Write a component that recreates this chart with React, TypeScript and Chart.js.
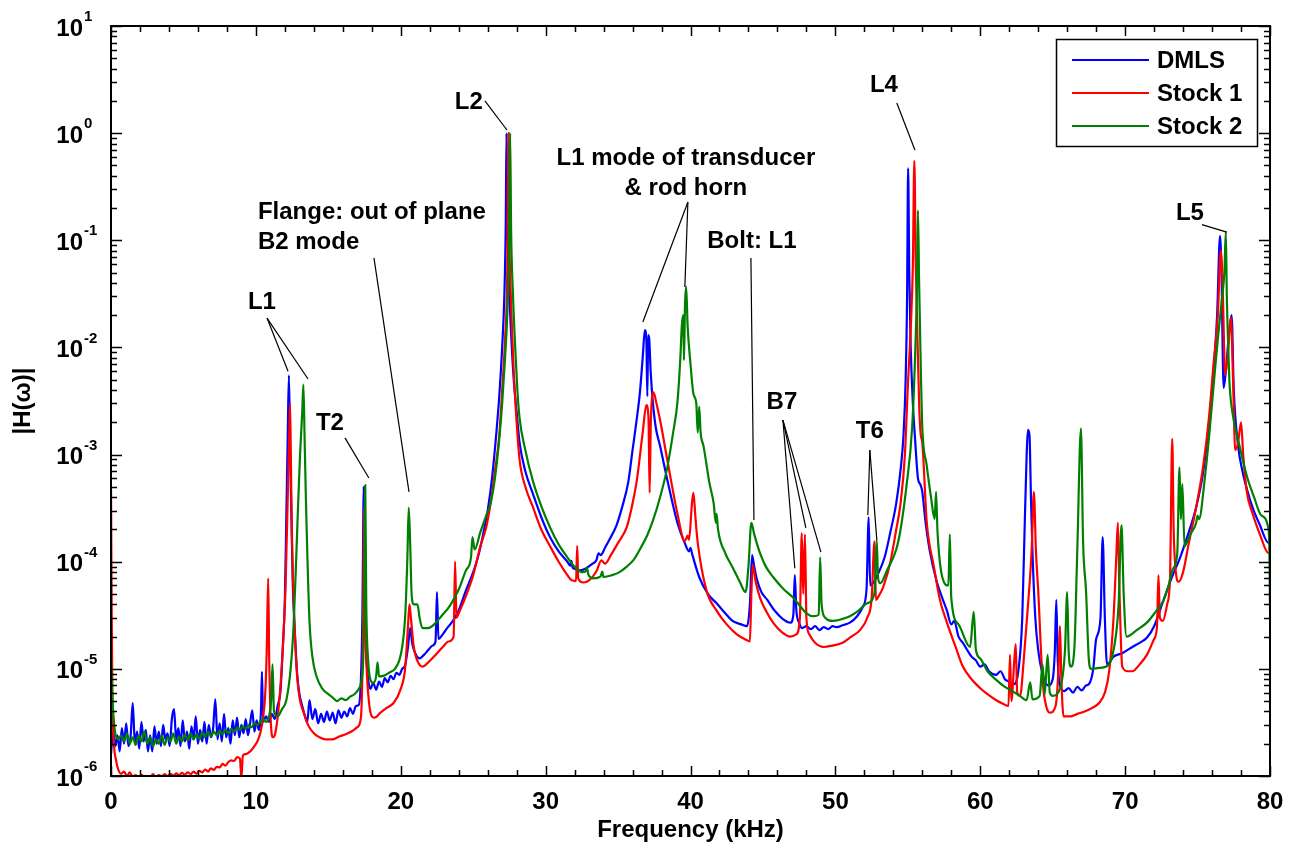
import React, { useEffect, useRef } from 'react';
import { Chart, registerables } from 'chart.js';

Chart.register(...registerables);

// ---------- DATA (frequency kHz, |H(w)|) ----------
const dmlsPoints: [number, number][] = [
  [0,1.6e-6],[0.15,2.6e-6],[0.3,1.9e-6],[0.45,2.4e-6],[0.6,1.7e-6],[0.75,2.8e-6],[0.9,2.0e-6],[1.05,3.1e-6],[1.2,1.9e-6],[1.35,2.3e-6],
  [1.5,4.8e-6],[1.65,2.0e-6],[1.8,2.6e-6],[1.95,1.8e-6],[2.1,3.2e-6],[2.25,2.1e-6],[2.4,2.7e-6],[2.55,1.7e-6],[2.7,2.4e-6],[2.85,1.7e-6],
  [3.0,2.9e-6],[3.15,2.0e-6],[3.3,2.6e-6],[3.45,1.9e-6],[3.6,3.0e-6],[3.75,2.2e-6],[3.9,2.5e-6],[4.05,1.9e-6],[4.2,3.4e-6],[4.35,4.2e-6],
  [4.5,2.2e-6],[4.65,2.8e-6],[4.8,1.9e-6],[4.95,3.3e-6],[5.1,2.1e-6],[5.25,2.6e-6],[5.4,1.8e-6],[5.55,2.9e-6],[5.7,2.2e-6],[5.85,3.6e-6],
  [6.0,2.0e-6],[6.15,2.7e-6],[6.3,2.1e-6],[6.45,3.2e-6],[6.6,2.0e-6],[6.75,3.0e-6],[6.9,2.3e-6],[7.05,2.8e-6],[7.2,5.2e-6],[7.35,2.2e-6],
  [7.5,3.1e-6],[7.65,2.1e-6],[7.8,3.8e-6],[7.95,2.3e-6],[8.1,2.8e-6],[8.25,2.0e-6],[8.4,3.3e-6],[8.55,2.4e-6],[8.7,3.5e-6],[8.85,2.3e-6],
  [9.0,3.0e-6],[9.15,2.5e-6],[9.3,3.4e-6],[9.45,2.4e-6],[9.6,3.1e-6],[9.75,4.1e-6],[9.9,2.6e-6],[10.05,3.3e-6],[10.2,2.7e-6],[10.35,4.0e-6],
  [10.42,9.4e-6],[10.5,3.2e-6],[10.7,3.6e-6],[10.9,3.2e-6],[11.1,3.8e-6],[11.3,3.4e-6],[11.5,4.5e-6],[11.7,6.3e-6],[11.85,1.5e-5],[12.0,4.4e-5],
  [12.1,2.5e-4],[12.2,1.5e-3],[12.28,5.5e-3],[12.36,1.2e-3],[12.45,2.7e-4],[12.55,6e-5],[12.7,2.1e-5],[12.85,9e-6],[13.0,5.9e-6],[13.2,4.5e-6],
  [13.4,3.6e-6],[13.55,3.2e-6],[13.7,5.1e-6],[13.9,3.4e-6],[14.1,4.2e-6],[14.3,3.1e-6],[14.5,3.8e-6],[14.7,3.2e-6],[14.9,4.0e-6],[15.1,3.3e-6],
  [15.3,3.9e-6],[15.5,3.1e-6],[15.7,4.1e-6],[15.9,3.5e-6],[16.1,4.0e-6],[16.3,3.6e-6],[16.5,4.3e-6],[16.7,3.8e-6],[16.9,4.5e-6],[17.1,4.6e-6],
  [17.25,8e-6],[17.35,3e-5],[17.45,5e-4],[17.52,4e-5],[17.6,1.5e-5],[17.75,8e-6],[17.9,6.5e-6],[18.1,7.4e-6],[18.3,6.4e-6],[18.5,7.6e-6],
  [18.7,6.8e-6],[18.9,8.2e-6],[19.1,7.5e-6],[19.3,8.6e-6],[19.5,8.0e-6],[19.7,9.2e-6],[19.9,8.8e-6],[20.1,1.0e-5],[20.3,1.08e-5],[20.5,1.6e-5],
  [20.65,2.4e-5],[20.8,1.7e-5],[21.0,1.4e-5],[21.3,1.25e-5],[21.6,1.35e-5],[21.9,1.5e-5],[22.2,1.65e-5],[22.4,1.8e-5],[22.5,5.2e-5],[22.6,1.9e-5],
  [22.9,2.1e-5],[23.2,2.4e-5],[23.6,2.8e-5],[24.0,3.5e-5],[24.5,5.4e-5],[25.0,8e-5],[25.4,1.2e-4],[25.7,1.85e-4],[26.0,3e-4],[26.3,6e-4],
  [26.6,1.6e-3],[26.8,3.5e-3],[27.0,1e-2],[27.15,3e-2],[27.25,0.15],[27.3,1.0],[27.35,0.2],[27.45,0.05],[27.6,1.5e-2],[27.8,5e-3],
  [28.0,2.5e-3],[28.2,1.3e-3],[28.6,7e-4],[29.1,4.4e-4],[29.7,2.6e-4],[30.3,1.7e-4],[30.9,1.25e-4],[31.5,1.0e-4],[31.7,9.2e-5],[31.78,1.02e-4],
  [31.86,8.8e-5],[32.1,8.5e-5],[32.4,8.3e-5],[32.8,8.7e-5],[33.2,9.5e-5],[33.5,1.03e-4],[33.65,1.2e-4],[33.8,1.15e-4],[34.1,1.35e-4],[34.4,1.6e-4],
  [34.9,2.2e-4],[35.3,3.3e-4],[35.7,5.5e-4],[36.0,1.1e-3],[36.3,2.2e-3],[36.5,3.7e-3],[36.7,8e-3],[36.85,1.45e-2],[36.95,1.2e-2],[37.02,3.5e-3],
  [37.08,1.3e-2],[37.15,1.2e-2],[37.25,6e-3],[37.4,3.1e-3],[37.6,1.8e-3],[37.9,1.2e-3],[38.4,5.8e-4],[39.1,2.3e-4],[39.6,1.5e-4],[39.9,1.25e-4],
  [40.0,1.35e-4],[40.1,1.2e-4],[40.6,7.2e-5],[41.2,5e-5],[41.8,4.1e-5],[42.4,3.3e-5],[42.9,2.8e-5],[43.5,2.6e-5],[43.9,2.5e-5],[44.1,4e-5],
  [44.25,1.15e-4],[44.4,9e-5],[44.6,6.7e-5],[44.9,5.2e-5],[45.3,4.4e-5],[45.8,3.5e-5],[46.4,2.9e-5],[46.9,2.7e-5],[47.1,3.2e-5],[47.2,7.5e-5],
  [47.3,3.6e-5],[47.5,2.7e-5],[47.7,2.4e-5],[48.0,2.5e-5],[48.3,2.35e-5],[48.6,2.5e-5],[48.9,2.3e-5],[49.2,2.45e-5],[49.5,2.35e-5],[49.8,2.5e-5],
  [50.1,2.45e-5],[50.5,2.55e-5],[51.0,2.7e-5],[51.5,3.1e-5],[51.9,3.8e-5],[52.15,5.5e-5],[52.3,2.6e-4],[52.4,6e-5],[52.6,6.3e-5],[53.0,8e-5],
  [53.4,1.1e-4],[53.8,1.9e-4],[54.2,3.5e-4],[54.5,7.2e-4],[54.7,1.5e-3],[54.85,5e-3],[54.95,3e-2],[55.02,0.47],[55.1,5e-2],[55.2,1e-2],
  [55.35,3e-3],[55.5,1.4e-3],[55.7,6e-4],[55.85,5.3e-4],[56.0,4.5e-4],[56.2,2.5e-4],[56.5,1.3e-4],[57.0,6.5e-5],[57.4,4.5e-5],[57.7,3.5e-5],
  [58.0,2.6e-5],[58.2,2.8e-5],[58.5,2.0e-5],[58.8,1.75e-5],[59.1,1.5e-5],[59.4,1.3e-5],[59.7,1.2e-5],[60.0,1.05e-5],[60.3,1.1e-5],[60.6,9.5e-6],
  [61.1,8.8e-6],[61.4,9.5e-6],[61.7,8e-6],[62.0,7.6e-6],[62.3,7.2e-6],[62.6,9e-6],[62.9,3e-5],[63.1,3.2e-4],[63.3,1.7e-3],[63.4,1.5e-3],
  [63.5,4e-4],[63.6,1.3e-4],[63.8,3e-5],[64.0,1.5e-5],[64.3,9e-6],[64.7,7e-6],[65.0,8e-6],[65.15,1.5e-5],[65.25,4.4e-5],[65.35,1.2e-5],
  [65.5,7e-6],[65.8,6.2e-6],[66.1,6.6e-6],[66.4,6.0e-6],[66.7,6.8e-6],[67.0,6.3e-6],[67.3,7.0e-6],[67.5,7.2e-6],[67.8,1.0e-5],[68.0,1.9e-5],
  [68.3,3e-5],[68.45,1.7e-4],[68.6,3e-5],[68.75,1.1e-5],[69.2,1.3e-5],[69.8,1.4e-5],[70.5,1.6e-5],[71.0,1.75e-5],[71.5,1.95e-5],[72.0,2.5e-5],
  [72.6,4.2e-5],[73.2,7e-5],[73.8,1.1e-4],[74.4,1.9e-4],[74.9,3.2e-4],[75.4,7e-4],[75.8,2e-3],[76.1,6e-3],[76.35,2e-2],[76.55,0.11],
  [76.65,0.05],[76.8,4.2e-3],[76.95,6e-3],[77.2,1.5e-2],[77.35,2e-2],[77.5,4e-3],[77.8,1.2e-3],[78.1,7e-4],[78.4,4.8e-4],[78.8,3.2e-4],
  [79.3,2.2e-4],[79.9,1.5e-4],[80,1.5e-4],
];

const stock1Points: [number, number][] = [
  [0,5e-4],[0.05,3e-5],[0.1,5e-6],[0.2,2e-6],[0.35,1.4e-6],[0.5,1.15e-6],[0.7,1.05e-6],[0.9,1.1e-6],[1.1,1.0e-6],[1.3,1.08e-6],
  [1.5,0.98e-6],[1.7,1.02e-6],[1.9,0.95e-6],[2.1,1.03e-6],[2.3,0.97e-6],[2.5,1.0e-6],[2.7,0.96e-6],[2.9,1.04e-6],[3.1,0.98e-6],[3.3,1.02e-6],
  [3.5,0.99e-6],[3.7,1.04e-6],[3.9,1.0e-6],[4.1,1.05e-6],[4.3,1.01e-6],[4.5,1.06e-6],[4.7,1.02e-6],[4.9,1.07e-6],[5.1,1.03e-6],[5.3,1.08e-6],
  [5.5,1.04e-6],[5.7,1.1e-6],[5.9,1.05e-6],[6.1,1.12e-6],[6.3,1.08e-6],[6.5,1.15e-6],[6.7,1.1e-6],[6.9,1.18e-6],[7.1,1.14e-6],[7.3,1.22e-6],
  [7.5,1.2e-6],[7.7,1.3e-6],[7.9,1.25e-6],[8.1,1.35e-6],[8.3,1.4e-6],[8.5,1.38e-6],[8.7,1.5e-6],[8.9,1.45e-6],[9.0,0.95e-6],[9.1,1.55e-6],
  [9.3,1.6e-6],[9.5,1.65e-6],[9.7,1.75e-6],[9.9,1.9e-6],[10.1,2.1e-6],[10.3,2.5e-6],[10.5,3.5e-6],[10.65,6e-6],[10.75,1.5e-5],[10.85,7e-5],
  [10.92,1.2e-5],[11.0,4e-6],[11.15,2.3e-6],[11.3,2.4e-6],[11.5,3.5e-6],[11.7,7e-6],[11.9,2e-5],[12.05,6e-5],[12.2,4e-4],[12.3,1.5e-3],
  [12.36,3.0e-3],[12.42,8e-4],[12.5,1.5e-4],[12.65,3e-5],[12.8,1.05e-5],[13.0,5.5e-6],[13.3,3.9e-6],[13.6,3.0e-6],[14.0,2.5e-6],[14.4,2.3e-6],
  [14.8,2.2e-6],[15.3,2.2e-6],[15.8,2.35e-6],[16.2,2.45e-6],[16.6,2.6e-6],[17.0,2.85e-6],[17.25,3.5e-6],[17.38,1.5e-5],[17.48,3.2e-4],[17.55,3e-5],
  [17.65,1e-5],[17.8,5e-6],[18.0,3.6e-6],[18.2,3.5e-6],[18.6,3.9e-6],[19.0,4.3e-6],[19.5,4.8e-6],[20.0,6.5e-6],[20.3,1.0e-5],[20.5,2.5e-5],
  [20.6,4.0e-5],[20.7,3e-5],[20.9,1.6e-5],[21.2,1.15e-5],[21.5,1.05e-5],[21.9,1.15e-5],[22.4,1.35e-5],[22.9,1.6e-5],[23.3,1.8e-5],[23.65,2.0e-5],
  [23.75,1e-4],[23.85,3e-5],[24.0,3.3e-5],[24.5,4.8e-5],[25.0,7.5e-5],[25.5,1.4e-4],[25.9,2.1e-4],[26.2,3.5e-4],[26.5,7e-4],[26.8,1.5e-3],
  [27.0,4e-3],[27.2,1.2e-2],[27.35,5e-2],[27.43,1.0],[27.5,0.1],[27.6,3e-2],[27.8,6e-3],[28.0,2e-3],[28.2,9e-4],[28.6,5e-4],
  [29.1,3.3e-4],[29.7,2e-4],[30.3,1.4e-4],[30.9,1e-4],[31.5,7.5e-5],[31.8,6.7e-5],[32.1,6.6e-5],[32.18,1.4e-4],[32.25,7e-5],[32.6,6.4e-5],
  [33.0,6.7e-5],[33.5,8.1e-5],[33.85,1.03e-4],[34.1,9.6e-5],[34.5,1.15e-4],[35.0,1.5e-4],[35.6,2.1e-4],[36.0,3.5e-4],[36.3,5.8e-4],[36.7,1.6e-3],
  [36.95,2.9e-3],[37.1,2.2e-3],[37.18,4.4e-4],[37.26,2e-3],[37.45,3.8e-3],[37.65,3e-3],[37.9,2.1e-3],[38.4,8.9e-4],[39.1,2.8e-4],[39.6,1.55e-4],
  [39.8,1.75e-4],[39.9,1.6e-4],[40.1,3.5e-4],[40.2,4.4e-4],[40.35,2.5e-4],[40.5,1.5e-4],[41.1,5.4e-5],[41.8,3.5e-5],[42.5,2.6e-5],[43.2,2.1e-5],
  [43.9,1.85e-5],[44.1,1.8e-5],[44.2,5e-5],[44.3,9.3e-5],[44.5,6.5e-5],[44.8,4.6e-5],[45.2,3.5e-5],[45.7,2.7e-5],[46.3,2.2e-5],[46.9,2.0e-5],
  [47.3,2.1e-5],[47.55,3e-5],[47.68,1.85e-4],[47.78,5e-5],[47.9,1.8e-4],[48.0,3e-5],[48.2,2.1e-5],[48.6,1.75e-5],[49.2,1.6e-5],[49.8,1.65e-5],
  [50.5,1.75e-5],[51.1,2.0e-5],[51.7,2.3e-5],[52.2,3.0e-5],[52.5,4.5e-5],[52.7,1.55e-4],[52.8,4.4e-5],[53.0,4.8e-5],[53.3,5.8e-5],[53.8,1e-4],
  [54.2,2e-4],[54.5,3.5e-4],[54.8,1e-3],[55.0,4.3e-3],[55.2,1.5e-2],[55.35,0.06],[55.45,0.55],[55.55,0.06],[55.7,8e-3],[55.8,2.5e-3],
  [55.9,1.5e-3],[56.0,1.3e-3],[56.3,2.4e-4],[56.8,9e-5],[57.2,4.5e-5],[57.7,2.7e-5],[58.3,1.6e-5],[58.8,1.05e-5],[59.4,8e-6],[60.0,6.6e-6],
  [60.5,5.8e-6],[61.1,5.1e-6],[61.6,4.7e-6],[61.95,4.5e-6],[62.05,1.35e-5],[62.15,5e-6],[62.35,1.2e-5],[62.45,1.7e-5],[62.55,6e-6],[62.75,5.6e-6],
  [63.0,1.2e-5],[63.3,4e-5],[63.55,1.3e-4],[63.7,4.5e-4],[63.85,1.2e-4],[64.0,5.4e-5],[64.3,7.9e-6],[64.55,4.5e-6],[64.8,3.9e-6],[65.2,4.5e-6],
  [65.4,1.0e-5],[65.5,2.5e-5],[65.6,8e-6],[65.75,3.6e-6],[66.2,3.6e-6],[66.7,3.8e-6],[67.2,4.0e-6],[67.7,4.3e-6],[68.2,4.8e-6],[68.6,6e-6],
  [68.9,9.5e-6],[69.2,3e-5],[69.4,1.2e-4],[69.5,2.3e-4],[69.6,6e-5],[69.8,1.05e-5],[70.2,9.5e-6],[70.5,9.5e-6],[71.0,1.1e-5],[71.5,1.35e-5],
  [72.0,1.9e-5],[72.2,2.5e-5],[72.3,7.5e-5],[72.4,3e-5],[72.6,2.8e-5],[72.9,4e-5],[73.1,7.2e-5],[73.25,1.4e-3],[73.35,2e-4],[73.5,8e-5],
  [73.7,6.5e-5],[74.0,8e-5],[74.4,1.5e-4],[74.9,3.2e-4],[75.4,8e-4],[75.8,2.3e-3],[76.1,6.9e-3],[76.4,2e-2],[76.6,8e-2],[76.75,3e-2],
  [76.9,5.5e-3],[77.1,9e-3],[77.3,1.9e-2],[77.45,5e-3],[77.6,1.1e-3],[77.8,1.3e-3],[78.0,2e-3],[78.15,1e-3],[78.4,4.5e-4],[78.8,2.8e-4],
  [79.3,1.8e-4],[79.9,1.2e-4],[80,1.2e-4],
];

const stock2Points: [number, number][] = [
  [0,1.3e-5],[0.05,8e-6],[0.15,4e-6],[0.3,2.5e-6],[0.5,2.2e-6],[0.7,2.4e-6],[0.9,2.1e-6],[1.1,2.5e-6],[1.3,2.0e-6],[1.5,2.3e-6],
  [1.7,1.95e-6],[1.9,2.4e-6],[2.1,2.1e-6],[2.3,2.6e-6],[2.5,2.0e-6],[2.7,2.3e-6],[2.9,1.9e-6],[3.1,2.2e-6],[3.3,2.0e-6],[3.5,2.4e-6],
  [3.7,1.95e-6],[3.9,2.3e-6],[4.1,2.1e-6],[4.3,2.5e-6],[4.5,2.0e-6],[4.7,2.35e-6],[4.9,2.1e-6],[5.1,2.45e-6],[5.3,2.15e-6],[5.5,2.5e-6],
  [5.7,2.2e-6],[5.9,2.45e-6],[6.1,2.2e-6],[6.3,2.55e-6],[6.5,2.3e-6],[6.7,2.6e-6],[6.9,2.35e-6],[7.1,2.6e-6],[7.3,2.4e-6],[7.5,2.65e-6],
  [7.7,2.45e-6],[7.9,2.7e-6],[8.1,2.5e-6],[8.3,2.75e-6],[8.5,2.6e-6],[8.7,2.85e-6],[8.9,2.7e-6],[9.1,2.9e-6],[9.3,2.75e-6],[9.5,3.0e-6],
  [9.7,2.85e-6],[9.9,3.1e-6],[10.1,3.0e-6],[10.3,3.2e-6],[10.5,3.4e-6],[10.7,3.2e-6],[10.9,3.6e-6],[11.05,5e-6],[11.15,1.1e-5],[11.25,4e-6],
  [11.5,3.6e-6],[11.8,4.2e-6],[12.1,5.1e-6],[12.4,1e-5],[12.6,2.5e-5],[12.75,8e-5],[12.9,3e-4],[13.05,1e-3],[13.2,2.5e-3],[13.28,4.5e-3],
  [13.36,1.5e-3],[13.45,4e-4],[13.55,1.2e-4],[13.7,2.8e-5],[13.9,1.3e-5],[14.2,8.4e-6],[14.6,6.5e-6],[15.0,5.8e-6],[15.3,5.4e-6],[15.6,5.0e-6],
  [15.9,5.3e-6],[16.2,5.1e-6],[16.5,5.5e-6],[16.8,5.8e-6],[17.1,6.5e-6],[17.3,8e-6],[17.45,2e-5],[17.55,5.2e-4],[17.62,4e-5],[17.75,1.2e-5],
  [17.9,8e-6],[18.1,7.4e-6],[18.3,8.5e-6],[18.4,1.15e-5],[18.5,8.5e-6],[18.8,8.6e-6],[19.2,9.2e-6],[19.6,1.0e-5],[19.9,1.2e-5],[20.1,1.6e-5],
  [20.3,3e-5],[20.45,1e-4],[20.55,3.2e-4],[20.65,1.5e-4],[20.75,5e-5],[20.9,4e-5],[21.15,4.0e-5],[21.3,3e-5],[21.5,2.4e-5],[21.9,2.4e-5],
  [22.3,2.6e-5],[22.8,3.1e-5],[23.4,3.9e-5],[24.0,5.5e-5],[24.5,8.3e-5],[24.85,1.1e-4],[24.95,1.7e-4],[25.1,1.3e-4],[25.5,1.9e-4],[25.9,2.7e-4],
  [26.2,3.5e-4],[26.5,6e-4],[26.8,1.4e-3],[27.0,3e-3],[27.2,8e-3],[27.35,2e-2],[27.47,0.08],[27.55,1.0],[27.62,0.12],[27.75,3e-2],
  [27.9,1e-2],[28.05,4e-3],[28.2,2.2e-3],[28.6,1.1e-3],[29.1,5.8e-4],[29.7,3.3e-4],[30.3,2.1e-4],[30.9,1.45e-4],[31.5,1.1e-4],[32.0,9e-5],
  [32.5,8e-5],[32.75,8.1e-5],[32.85,8.8e-5],[32.95,7.6e-5],[33.3,7e-5],[33.8,7.3e-5],[33.9,8.1e-5],[34.0,7.2e-5],[34.6,7.5e-5],[35.1,8e-5],
  [35.6,9e-5],[36.1,1.05e-4],[36.5,1.3e-4],[37.0,1.75e-4],[37.4,2.4e-4],[37.9,4e-4],[38.4,7.6e-4],[38.8,1.6e-3],[39.1,3.1e-3],[39.3,8e-3],
  [39.4,1.6e-2],[39.5,2.0e-2],[39.55,7.6e-3],[39.62,2.5e-2],[39.7,3.7e-2],[39.8,1.6e-2],[40.0,7e-3],[40.2,3.7e-3],[40.4,3.0e-3],[40.5,1.6e-3],
  [40.6,2.8e-3],[40.7,1.6e-3],[40.9,1.2e-3],[41.3,5.5e-4],[41.6,3.5e-4],[41.75,2.3e-4],[41.8,2.8e-4],[41.9,2e-4],[42.4,1.2e-4],[42.9,8.9e-5],
  [43.4,6.5e-5],[43.8,5.2e-5],[44.0,9e-5],[44.2,2.3e-4],[44.4,1.8e-4],[44.8,1.2e-4],[45.2,9e-5],[45.7,7.2e-5],[46.4,5.6e-5],[47.1,4.6e-5],
  [47.6,3.8e-5],[48.0,3.3e-5],[48.5,3.1e-5],[48.85,3.2e-5],[48.95,1.1e-4],[49.05,4e-5],[49.3,3e-5],[49.8,2.8e-5],[50.4,2.9e-5],[51.0,3.1e-5],
  [51.6,3.5e-5],[52.2,4.1e-5],[52.7,5.1e-5],[52.85,1.6e-4],[52.95,7e-5],[53.1,6.3e-5],[53.6,8.5e-5],[54.2,1.3e-4],[54.5,2e-4],[54.9,5e-4],
  [55.3,1.8e-3],[55.5,8e-3],[55.62,3e-2],[55.7,0.19],[55.78,4e-2],[55.9,6e-3],[56.0,1.8e-3],[56.3,8e-4],[56.6,4e-4],[56.85,2.5e-4],
  [56.95,4.5e-4],[57.05,1.9e-4],[57.4,7e-5],[57.8,6e-5],[57.9,1.8e-4],[58.0,4.6e-5],[58.5,2.6e-5],[59.3,1.6e-5],[59.55,3.4e-5],[59.7,1.5e-5],
  [60.0,1.25e-5],[60.5,9.5e-6],[61.1,7.9e-6],[61.7,6.8e-6],[62.3,6.1e-6],[62.8,5.5e-6],[63.2,5.1e-6],[63.45,7.5e-6],[63.6,5.2e-6],[64.1,5.6e-6],
  [64.3,1.1e-5],[64.45,5.8e-6],[64.65,1.35e-5],[64.8,6e-6],[65.0,5.6e-6],[65.5,6.5e-6],[65.85,1.5e-5],[66.0,5.2e-5],[66.1,1.5e-5],[66.25,1.05e-5],
  [66.5,1.6e-5],[66.7,1.3e-4],[66.95,1.75e-3],[67.1,1.5e-4],[67.3,5.4e-5],[67.5,1.2e-5],[67.65,1.0e-5],[68.2,1.02e-5],[68.7,1.05e-5],[69.2,1.5e-5],
  [69.55,4e-5],[69.75,2.2e-4],[69.9,5e-5],[70.1,2e-5],[70.8,2.3e-5],[71.5,2.7e-5],[72.1,3.4e-5],[72.6,4.2e-5],[73.0,6e-5],[73.3,8.6e-5],
  [73.6,1.2e-4],[73.75,7.6e-4],[73.85,2.5e-4],[73.95,5.3e-4],[74.1,1.4e-4],[74.5,1.8e-4],[74.9,2.3e-4],[75.0,2.7e-4],[75.1,2.5e-4],[75.5,6e-4],
  [75.8,1.5e-3],[76.1,4.3e-3],[76.4,1.2e-2],[76.7,3e-2],[76.85,5e-2],[76.95,0.12],[77.02,3e-2],[77.1,1.2e-2],[77.2,4.8e-3],[77.4,2.5e-3],
  [77.9,1.2e-3],[78.4,6.3e-4],[78.9,4e-4],[79.4,2.7e-4],[79.9,2e-4],[79.97,1e-4],[80,3.5e-5],
];

const seriesNames = ['DMLS', 'Stock 1', 'Stock 2'];
const seriesColors = ['#0000ff', '#ff0000', '#008000'];

const xTickValues = [0, 10, 20, 30, 40, 50, 60, 70, 80];
const yTickExponents = [-6, -5, -4, -3, -2, -1, 0, 1];
const xAxisTitle = 'Frequency (kHz)';
const yAxisTitle = '|H(\u03c9)|';

// Annotations: text anchor and leader lines, all in data coordinates (kHz, |H|)
type Ann = { lines: string[]; x: number; y: number; align: 'center' | 'left'; leaders: [number, number, number, number][] };
const annotations: Ann[] = [
  { lines: ['L1'], x: 10.42, y: 2.65e-2, align: 'center', leaders: [[10.77, 1.88e-2, 12.22, 6.0e-3], [10.77, 1.88e-2, 13.6, 5.07e-3]] },
  { lines: ['T2'], x: 15.11, y: 1.97e-3, align: 'center', leaders: [[16.15, 1.43e-3, 17.8, 6.04e-4]] },
  { lines: ['Flange: out of plane', 'B2 mode'], x: 10.14, y: 0.184, align: 'left', leaders: [[18.15, 6.84e-2, 20.57, 4.48e-4]] },
  { lines: ['L2'], x: 24.7, y: 1.95, align: 'center', leaders: [[25.81, 2.0, 27.33, 1.07]] },
  { lines: ['L1 mode of transducer', '& rod horn'], x: 39.68, y: 0.586, align: 'center', leaders: [[39.82, 0.2275, 36.71, 1.73e-2], [39.82, 0.2275, 39.61, 3.66e-2]] },
  { lines: ['Bolt: L1'], x: 44.24, y: 0.0984, align: 'center', leaders: [[44.17, 0.0684, 44.38, 2.45e-4]] },
  { lines: ['B7'], x: 46.31, y: 3.1e-3, align: 'center', leaders: [[46.38, 2.1e-3, 47.2, 8.7e-5], [46.38, 2.1e-3, 47.96, 2.07e-4], [46.38, 2.1e-3, 49.0, 1.23e-4]] },
  { lines: ['T6'], x: 52.38, y: 1.63e-3, align: 'center', leaders: [[52.38, 1.1e-3, 52.24, 2.73e-4], [52.38, 1.1e-3, 52.86, 1.6e-4]] },
  { lines: ['L4'], x: 53.35, y: 2.82, align: 'center', leaders: [[54.24, 1.91, 55.49, 0.697]] },
  { lines: ['L5'], x: 74.47, y: 0.18, align: 'center', leaders: [[75.3, 0.14, 77.02, 0.119]] },
];

const FONT = '"Liberation Sans", Arial, Helvetica, sans-serif';

const overlayPlugin = {
  id: 'overlay',
  afterDatasetsDraw(chart: any) {
    const { ctx, chartArea: a, scales } = chart;
    const xs = scales.x;
    const ys = scales.y;
    const px = (v: number) => xs.getPixelForValue(v);
    const py = (v: number) => ys.getPixelForValue(v);
    ctx.save();

    // leader lines
    ctx.strokeStyle = '#000';
    ctx.lineWidth = 1.2;
    for (const an of annotations) {
      for (const l of an.leaders) {
        ctx.beginPath();
        ctx.moveTo(px(l[0]), py(l[1]));
        ctx.lineTo(px(l[2]), py(l[3]));
        ctx.stroke();
      }
    }
    // annotation texts
    ctx.fillStyle = '#000';
    ctx.font = `bold 24px ${FONT}`;
    ctx.textBaseline = 'middle';
    for (const an of annotations) {
      ctx.textAlign = an.align;
      const x0 = px(an.x);
      const y0 = py(an.y);
      an.lines.forEach((t, i) => ctx.fillText(t, x0, y0 + i * 30));
    }

    // axes box
    ctx.strokeStyle = '#000';
    ctx.lineWidth = 2;
    ctx.strokeRect(a.left, a.top, a.right - a.left, a.bottom - a.top);

    // x ticks (every 2 kHz), inside, bottom and top
    ctx.lineWidth = 1.5;
    for (let v = 0; v <= 80; v += 2) {
      const x = Math.round(px(v)) + 0.5;
      const len = v % 10 === 0 ? 10 : 6;
      ctx.beginPath();
      ctx.moveTo(x, a.bottom); ctx.lineTo(x, a.bottom - len);
      ctx.moveTo(x, a.top); ctx.lineTo(x, a.top + len);
      ctx.stroke();
    }
    // y ticks (log decades + minors), inside, left and right
    for (const e of yTickExponents) {
      for (let m = 1; m <= 9; m++) {
        if (e === 1 && m > 1) break;
        const v = m * Math.pow(10, e);
        const y = Math.round(py(v)) + 0.5;
        const len = m === 1 ? 11 : 6;
        ctx.beginPath();
        ctx.moveTo(a.left, y); ctx.lineTo(a.left + len, y);
        ctx.moveTo(a.right, y); ctx.lineTo(a.right - len, y);
        ctx.stroke();
      }
    }

    // x tick labels
    ctx.font = `bold 24px ${FONT}`;
    ctx.textAlign = 'center';
    ctx.textBaseline = 'middle';
    for (const v of xTickValues) ctx.fillText(String(v), px(v), a.bottom + 26);

    // y tick labels 10^e
    for (const e of yTickExponents) {
      const y = py(Math.pow(10, e));
      ctx.font = `bold 24px ${FONT}`;
      ctx.textAlign = 'right';
      ctx.textBaseline = 'middle';
      ctx.fillText('10', 83, y + 3);
      ctx.font = `bold 15px ${FONT}`;
      ctx.textAlign = 'left';
      ctx.fillText(String(e), 84, y - 9);
    }

    // axis titles
    ctx.font = `bold 24px ${FONT}`;
    ctx.textAlign = 'center';
    ctx.textBaseline = 'middle';
    ctx.fillText(xAxisTitle, (a.left + a.right) / 2, 830);
    ctx.save();
    ctx.translate(23, (a.top + a.bottom) / 2);
    ctx.rotate(-Math.PI / 2);
    ctx.fillText(yAxisTitle, 0, 0);
    ctx.restore();

    // legend
    const lx = 1056, ly = 39, lw = 201, lh = 107;
    ctx.fillStyle = '#fff';
    ctx.fillRect(lx, ly, lw, lh);
    ctx.strokeStyle = '#000';
    ctx.lineWidth = 1.5;
    ctx.strokeRect(lx + 0.5, ly + 0.5, lw, lh);
    ctx.font = `bold 24px ${FONT}`;
    ctx.textAlign = 'left';
    ctx.textBaseline = 'middle';
    seriesNames.forEach((name, i) => {
      const yy = 60 + i * 33;
      ctx.strokeStyle = seriesColors[i];
      ctx.lineWidth = 2;
      ctx.beginPath();
      ctx.moveTo(1072, yy); ctx.lineTo(1149, yy);
      ctx.stroke();
      ctx.fillStyle = '#000';
      ctx.fillText(name, 1157, yy + 1);
    });

    ctx.restore();
  },
};

export default function App() {
  const ref = useRef<HTMLCanvasElement>(null);
  useEffect(() => {
    if (!ref.current) return;
    const allPoints = [dmlsPoints, stock1Points, stock2Points];
    const chart = new Chart(ref.current, {
      type: 'line',
      data: {
        datasets: allPoints.map((pts, i) => ({
          label: seriesNames[i],
          data: pts.map(([x, y]) => ({ x, y })),
          borderColor: seriesColors[i],
          backgroundColor: seriesColors[i],
          borderWidth: 2.2,
          pointRadius: 0,
          cubicInterpolationMode: 'monotone',
          fill: false,
          clip: 0,
          order: 3 - i,
        })),
      },
      options: {
        animation: false,
        responsive: false,
        maintainAspectRatio: false,
        events: [],
        layout: { padding: { left: 111, right: 19, top: 26, bottom: 70 } },
        plugins: { legend: { display: false }, tooltip: { enabled: false } },
        scales: {
          x: { type: 'linear', min: 0, max: 80, display: false },
          y: { type: 'logarithmic', min: 1e-6, max: 10, display: false },
        },
      },
      plugins: [overlayPlugin],
    } as any);
    return () => chart.destroy();
  }, []);
  return (
    <div style={{ position: 'absolute', left: 0, top: 0, width: 1289, height: 846, background: '#fff' }}>
      <canvas ref={ref} width={1289} height={846} style={{ display: 'block', width: 1289, height: 846 }} />
    </div>
  );
}
